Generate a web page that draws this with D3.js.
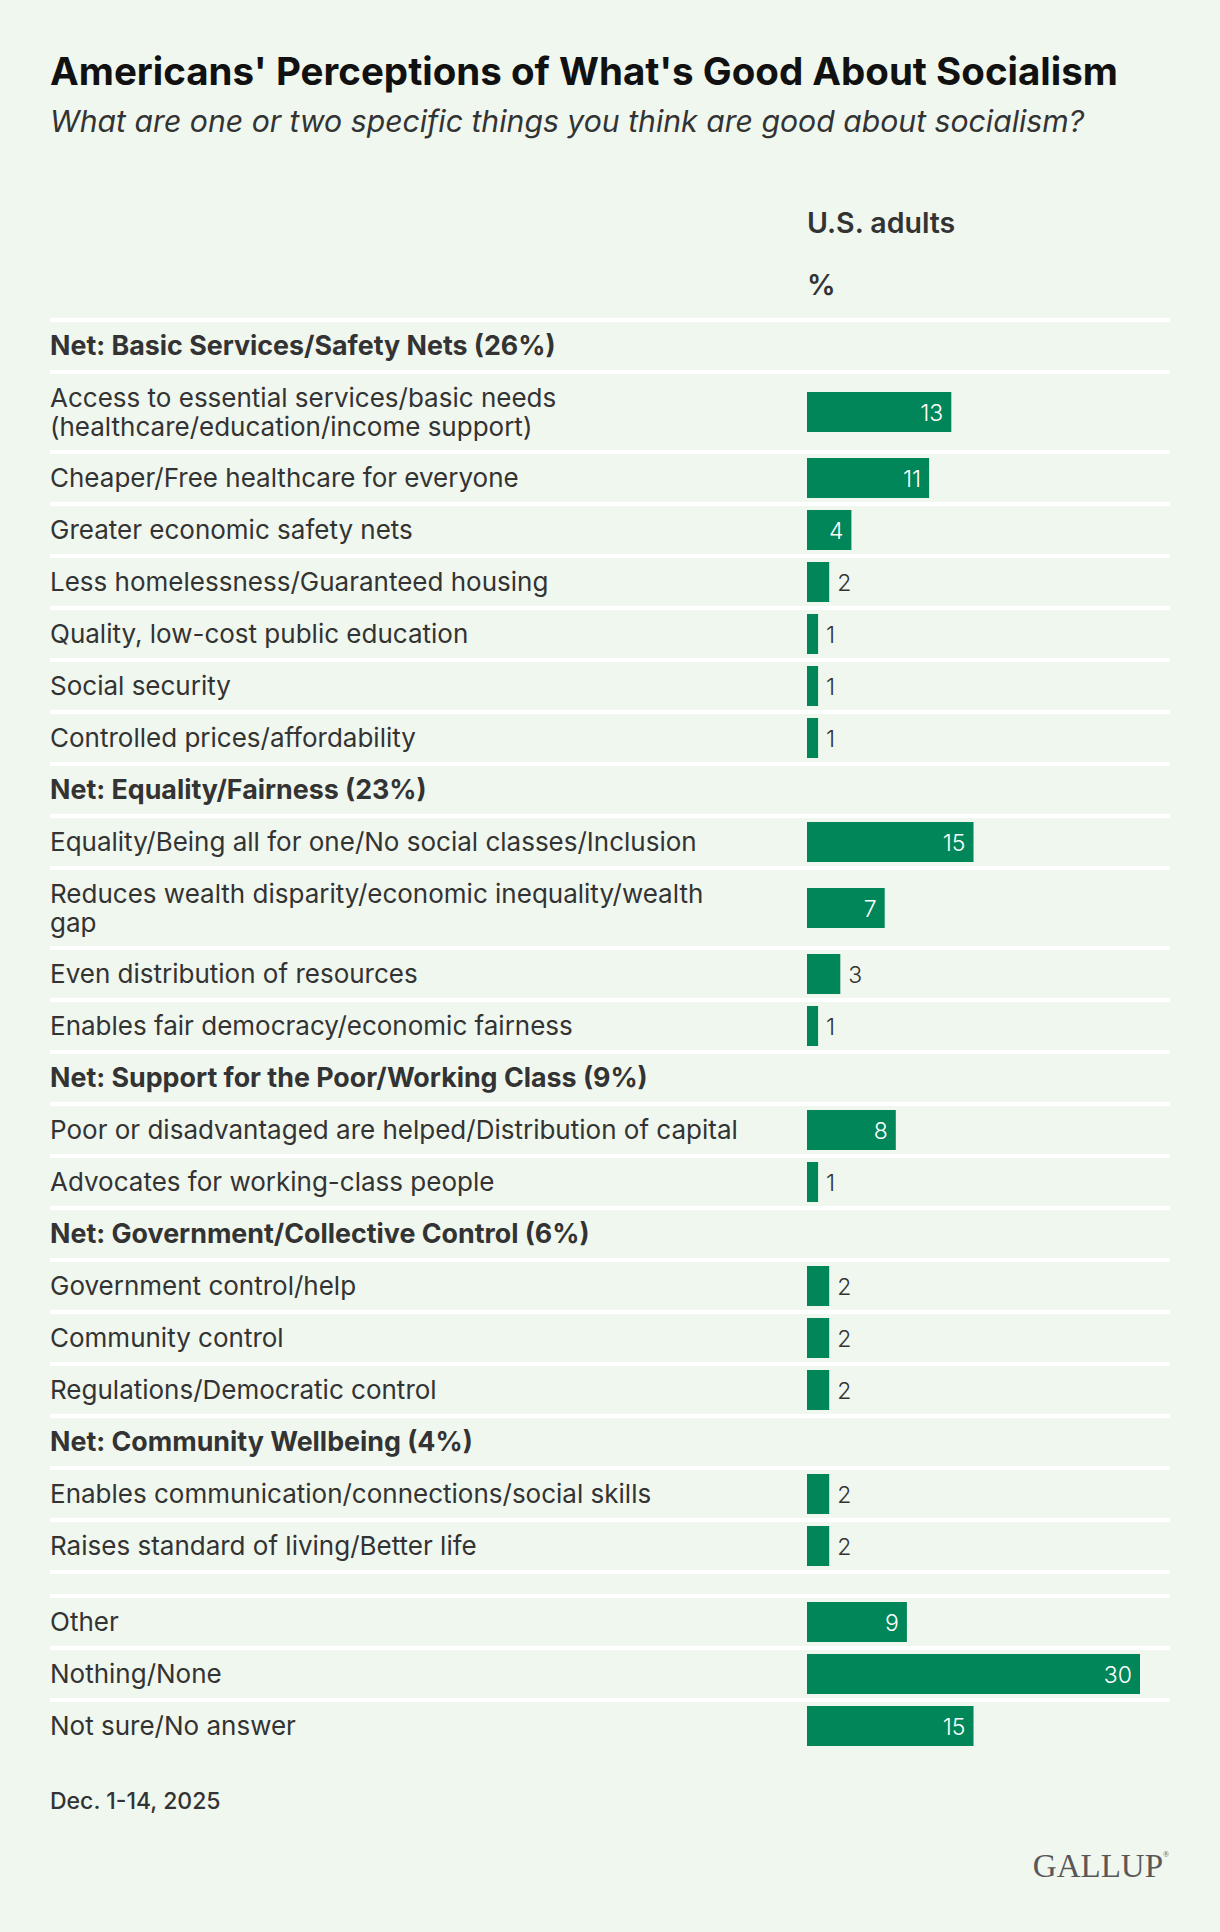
<!DOCTYPE html>
<html>
<head>
<meta charset="utf-8">
<script src="https://cdn.jsdelivr.net/npm/d3@7"></script>
<style>
  body { margin: 0; background: #f0f7ef; }
  svg { display: block; font-family: Inter, "Noto Sans", sans-serif; }
</style>
</head>
<body>
<div id="chart"></div>
<script>
var title = "Americans' Perceptions of What's Good About Socialism";
var subtitle = "What are one or two specific things you think are good about socialism?";
var columnLabel = "U.S. adults";
var unitLabel = "%";
var note = "Dec. 1-14, 2025";

// header rows have a null value, the empty label is the gap before "Other"
var labels = [
  "Net: Basic Services/Safety Nets (26%)",
  "Access to essential services/basic needs\n(healthcare/education/income support)",
  "Cheaper/Free healthcare for everyone",
  "Greater economic safety nets",
  "Less homelessness/Guaranteed housing",
  "Quality, low-cost public education",
  "Social security",
  "Controlled prices/affordability",
  "Net: Equality/Fairness (23%)",
  "Equality/Being all for one/No social classes/Inclusion",
  "Reduces wealth disparity/economic inequality/wealth\ngap",
  "Even distribution of resources",
  "Enables fair democracy/economic fairness",
  "Net: Support for the Poor/Working Class (9%)",
  "Poor or disadvantaged are helped/Distribution of capital",
  "Advocates for working-class people",
  "Net: Government/Collective Control (6%)",
  "Government control/help",
  "Community control",
  "Regulations/Democratic control",
  "Net: Community Wellbeing (4%)",
  "Enables communication/connections/social skills",
  "Raises standard of living/Better life",
  "",
  "Other",
  "Nothing/None",
  "Not sure/No answer"
];
var values = [null, 13, 11, 4, 2, 1, 1, 1,
              null, 15, 7, 3, 1,
              null, 8, 1,
              null, 2, 2, 2,
              null, 2, 2,
              null, 9, 30, 15];

var W = 1220, H = 1932;
var left = 50, right = 1170, barX = 807;
var rowH = 52, lineH = 28, textStep = 29, gapH = 24, firstY = 320;

var rows = labels.map(function(l, i) {
  var lines = l.split("\n");
  var kind = l === "" ? "gap" : (values[i] === null ? "net" : "item");
  var h = kind === "gap" ? gapH : rowH + lineH * (lines.length - 1);
  return {label: l, lines: lines, value: values[i], kind: kind, h: h};
});
var y0 = firstY;
rows.forEach(function(r) { r.y = y0; y0 += r.h; });

var x = d3.scaleLinear().domain([0, 30]).range([0, 333]);

var svg = d3.select("#chart").append("svg")
    .attr("width", W)
    .attr("height", H);

svg.append("rect").attr("width", W).attr("height", H).attr("fill", "#f0f7ef");

svg.append("text")
    .attr("x", left).attr("y", 85)
    .attr("font-size", 38.5).attr("font-weight", 700)
    .attr("fill", "#111")
    .text(title);
svg.append("text")
    .attr("x", left).attr("y", 132)
    .attr("font-size", 30.2).attr("font-style", "italic")
    .attr("fill", "#333")
    .text(subtitle);

svg.append("text")
    .attr("x", barX).attr("y", 233)
    .attr("font-size", 28.5).attr("font-weight", 600)
    .attr("fill", "#333")
    .text(columnLabel);
svg.append("text")
    .attr("x", barX).attr("y", 295)
    .attr("font-size", 28.5).attr("font-weight", 600)
    .attr("fill", "#333")
    .text(unitLabel);

// white rules on top of every row except after the last one
svg.selectAll("line.rule")
  .data(rows)
  .enter().append("line")
    .attr("class", "rule")
    .attr("x1", left).attr("x2", right)
    .attr("y1", function(d) { return d.y; })
    .attr("y2", function(d) { return d.y; })
    .attr("stroke", "#fff")
    .attr("stroke-width", 4);

var g = svg.selectAll("g.row")
  .data(rows.filter(function(d) { return d.kind !== "gap"; }))
  .enter().append("g")
    .attr("class", "row")
    .attr("transform", function(d) { return "translate(0," + (d.y + d.h / 2) + ")"; });

g.append("text")
    .attr("x", left)
    .attr("font-size", function(d) { return d.kind === "net" ? 26.8 : 26; })
    .attr("font-weight", function(d) { return d.kind === "net" ? 700 : 400; })
    .attr("fill", "#333")
    .each(function(d) {
      var t = d3.select(this);
      var off = -(d.lines.length - 1) * textStep / 2 + 9;
      d.lines.forEach(function(s, i) {
        t.append("tspan").attr("x", left).attr("y", off + i * textStep).text(s);
      });
    });

var items = g.filter(function(d) { return d.kind === "item"; });

items.append("rect")
    .attr("x", barX)
    .attr("y", -20)
    .attr("width", function(d) { return x(d.value); })
    .attr("height", 40)
    .attr("fill", "#008658");

items.append("text")
    .attr("x", function(d) { return d.value >= 4 ? barX + x(d.value) - 8 : barX + x(d.value) + 8; })
    .attr("y", 8.5)
    .attr("text-anchor", function(d) { return d.value >= 4 ? "end" : "start"; })
    .attr("font-size", 23)
    .attr("font-weight", 300)
    .attr("fill", function(d) { return d.value >= 4 ? "#fff" : "#333"; })
    .text(function(d) { return d.value; });

svg.append("text")
    .attr("x", left).attr("y", 1809)
    .attr("font-size", 23).attr("font-weight", 500)
    .attr("fill", "#333")
    .text(note);

svg.append("text")
    .attr("x", 1163).attr("y", 1877)
    .attr("text-anchor", "end")
    .attr("font-family", "'Liberation Serif', serif")
    .attr("font-size", 33)
    .attr("fill", "#585858")
    .text("GALLUP");
svg.append("text")
    .attr("x", 1163).attr("y", 1857)
    .attr("font-family", "'Liberation Serif', serif")
    .attr("font-size", 8)
    .attr("fill", "#585858")
    .text("®");
</script>
</body>
</html>
